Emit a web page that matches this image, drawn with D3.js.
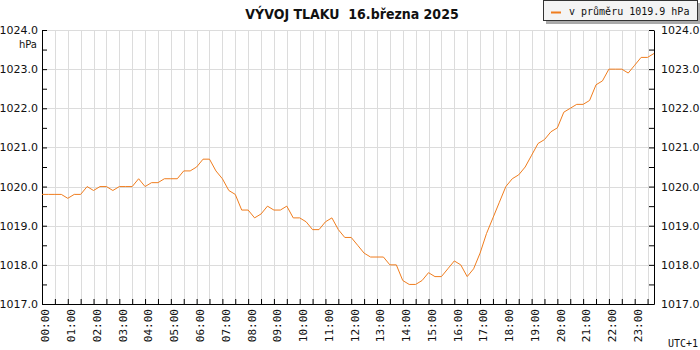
<!DOCTYPE html>
<html>
<head>
<meta charset="utf-8">
<script src="https://cdn.jsdelivr.net/npm/d3@7"></script>
<style>
  body { margin: 0; background: #fff; }
  svg { display: block; }
</style>
</head>
<body>
<script>
// pressure readings every 15 minutes, 00:00 .. 23:45
var times = [
  "00:00","00:15","00:30","00:45","01:00","01:15","01:30","01:45",
  "02:00","02:15","02:30","02:45","03:00","03:15","03:30","03:45",
  "04:00","04:15","04:30","04:45","05:00","05:15","05:30","05:45",
  "06:00","06:15","06:30","06:45","07:00","07:15","07:30","07:45",
  "08:00","08:15","08:30","08:45","09:00","09:15","09:30","09:45",
  "10:00","10:15","10:30","10:45","11:00","11:15","11:30","11:45",
  "12:00","12:15","12:30","12:45","13:00","13:15","13:30","13:45",
  "14:00","14:15","14:30","14:45","15:00","15:15","15:30","15:45",
  "16:00","16:15","16:30","16:45","17:00","17:15","17:30","17:45",
  "18:00","18:15","18:30","18:45","19:00","19:15","19:30","19:45",
  "20:00","20:15","20:30","20:45","21:00","21:15","21:30","21:45",
  "22:00","22:15","22:30","22:45","23:00","23:15","23:30","23:45"
];
var pressure = [
  1019.8,1019.8,1019.8,1019.8,1019.7,1019.8,1019.8,1020.0,
  1019.9,1020.0,1020.0,1019.9,1020.0,1020.0,1020.0,1020.2,
  1020.0,1020.1,1020.1,1020.2,1020.2,1020.2,1020.4,1020.4,
  1020.5,1020.7,1020.7,1020.4,1020.2,1019.9,1019.8,1019.4,
  1019.4,1019.2,1019.3,1019.5,1019.4,1019.4,1019.5,1019.2,
  1019.2,1019.1,1018.9,1018.9,1019.1,1019.2,1018.9,1018.7,
  1018.7,1018.5,1018.3,1018.2,1018.2,1018.2,1018.0,1018.0,
  1017.6,1017.5,1017.5,1017.6,1017.8,1017.7,1017.7,1017.9,
  1018.1,1018.0,1017.7,1017.9,1018.3,1018.8,1019.2,1019.6,
  1020.0,1020.2,1020.3,1020.5,1020.8,1021.1,1021.2,1021.4,
  1021.5,1021.9,1022.0,1022.1,1022.1,1022.2,1022.6,1022.7,
  1023.0,1023.0,1023.0,1022.9,1023.1,1023.3,1023.3,1023.4
];
var hourLabels = [
  "00:00","01:00","02:00","03:00","04:00","05:00","06:00","07:00",
  "08:00","09:00","10:00","11:00","12:00","13:00","14:00","15:00",
  "16:00","17:00","18:00","19:00","20:00","21:00","22:00","23:00"
];
var yTicks = [1017, 1018, 1019, 1020, 1021, 1022, 1023, 1024];
var titleText = "VÝVOJ TLAKU  16.března 2025";
var legendText = "v průměru 1019.9 hPa";
var unitText = "hPa";
var zoneText = "UTC+1";

var lineColor = "#f07d1e";

function toHours(t) {
    var p = t.split(":");
    return +p[0] + (+p[1]) / 60;
}

var margin = { top: 30, left: 42 };
var width = 612;
var height = 274;

var svg = d3.select("body").append("svg")
    .attr("width", 700)
    .attr("height", 350);

var g = svg.append("g")
    .attr("transform", "translate(" + margin.left + "," + margin.top + ")");

var xScale = d3.scaleLinear()
    .domain([toHours(times[0]), toHours(times[times.length - 1])])
    .range([0, width]);

var yScale = d3.scaleLinear()
    .domain([1017, 1024])
    .range([height, 0]);

// grid
var halfHours = d3.range(0, 24, 0.5);
g.append("g").selectAll("line")
    .data(halfHours.filter(function(h) { return h > 0; }))
    .enter().append("line")
    .attr("x1", function(d) { return Math.round(xScale(d)) + 0.5; })
    .attr("x2", function(d) { return Math.round(xScale(d)) + 0.5; })
    .attr("y1", 0)
    .attr("y2", height)
    .attr("stroke", "#dcdcdc");

g.append("g").selectAll("line")
    .data(yTicks.filter(function(v) { return v > 1017; }))
    .enter().append("line")
    .attr("x1", 0)
    .attr("x2", width)
    .attr("y1", function(d) { return Math.round(yScale(d)) + 0.5; })
    .attr("y2", function(d) { return Math.round(yScale(d)) + 0.5; })
    .attr("stroke", "#dcdcdc");

// axes
var halfSteps = d3.range(1017, 1024.01, 0.5);
var yFormat = function(d) { return Number.isInteger(d) ? d.toFixed(1) : ""; };

var leftAxis = g.append("g")
    .call(d3.axisLeft(yScale).tickValues(halfSteps).tickSizeInner(-5).tickSizeOuter(0)
        .tickPadding(4).tickFormat(yFormat));

var rightAxis = g.append("g")
    .attr("transform", "translate(" + width + ",0)")
    .call(d3.axisRight(yScale).tickValues(halfSteps).tickSizeInner(-5).tickSizeOuter(0)
        .tickPadding(7).tickFormat(yFormat));

var bottomAxis = g.append("g")
    .attr("transform", "translate(0," + height + ")")
    .call(d3.axisBottom(xScale).tickValues(halfHours).tickSizeInner(-5).tickSizeOuter(0)
        .tickFormat(""));

[leftAxis, rightAxis, bottomAxis].forEach(function(a) {
    a.attr("font-family", "DejaVu Sans").attr("font-size", 11);
    a.selectAll("path, line").attr("stroke", "#000");
    a.selectAll("text").attr("fill", "#111");
});

// hour labels
g.append("g").selectAll("text")
    .data(hourLabels)
    .enter().append("text")
    .attr("transform", function(d) {
        return "translate(" + (xScale(toHours(d)) + 3.5) + "," + (height + 5) + ") rotate(-90)";
    })
    .attr("text-anchor", "end")
    .attr("dy", "0.35em")
    .attr("font-family", "DejaVu Sans Mono")
    .attr("font-size", 11)
    .attr("fill", "#111")
    .text(function(d) { return d; });

// line
var line = d3.line()
    .x(function(d, i) { return xScale(toHours(times[i])); })
    .y(function(d) { return yScale(d); });

g.append("path")
    .datum(pressure)
    .attr("fill", "none")
    .attr("stroke", lineColor)
    .attr("stroke-width", 1)
    .attr("d", line);

// texts
svg.append("text")
    .attr("x", 352)
    .attr("y", 19)
    .attr("text-anchor", "middle")
    .attr("font-family", "DejaVu Sans Condensed, DejaVu Sans")
    .attr("font-stretch", "condensed")
    .attr("font-weight", "bold")
    .attr("font-size", 14)
    .attr("fill", "#111")
    .style("white-space", "pre")
    .text(titleText);

svg.append("text")
    .attr("x", 37)
    .attr("y", 48)
    .attr("text-anchor", "end")
    .attr("font-family", "DejaVu Sans")
    .attr("font-size", 10)
    .attr("fill", "#111")
    .text(unitText);

svg.append("text")
    .attr("x", 698)
    .attr("y", 347)
    .attr("text-anchor", "end")
    .attr("font-family", "DejaVu Sans Mono")
    .attr("font-size", 10)
    .attr("fill", "#111")
    .text(zoneText);

// legend
var legend = svg.append("g");
legend.append("rect")
    .attr("x", 546).attr("y", 3)
    .attr("width", 154).attr("height", 21)
    .attr("fill", "#aaa");
legend.append("rect")
    .attr("x", 543.5).attr("y", 0.5)
    .attr("width", 154).attr("height", 20)
    .attr("fill", "#f4f4f4")
    .attr("stroke", "#333");
legend.append("line")
    .attr("x1", 551).attr("x2", 561)
    .attr("y1", 12.5).attr("y2", 12.5)
    .attr("stroke", lineColor)
    .attr("stroke-width", 2);
legend.append("text")
    .attr("x", 569)
    .attr("y", 15)
    .attr("font-family", "DejaVu Sans Mono")
    .attr("font-size", 10)
    .attr("fill", "#111")
    .text(legendText);
</script>
</body>
</html>
